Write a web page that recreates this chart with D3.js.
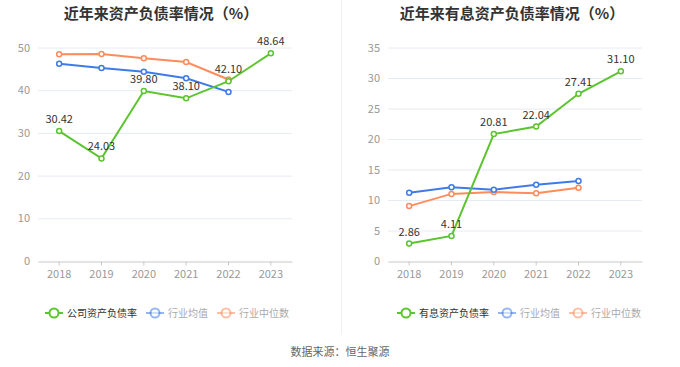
<!DOCTYPE html>
<html><head><meta charset="utf-8">
<script src="https://cdn.jsdelivr.net/npm/d3@7/dist/d3.min.js"></script>
<style>body{margin:0;background:#fff;}svg{display:block;font-family:"Noto Sans CJK SC","Noto Sans",sans-serif;}</style>
</head><body><svg id="c" width="680" height="367"></svg>
<script>
const years = ["2018","2019","2020","2021","2022","2023"];
const leftTitle = "近年来资产负债率情况（%）";
const rightTitle = "近年来有息资产负债率情况（%）";
const leftCompany = [30.42, 24.03, 39.80, 38.10, 42.10, 48.64];
const leftMean = [46.2, 45.2, 44.3, 42.8, 39.6];
const leftMedian = [48.4, 48.5, 47.5, 46.6, 42.5];
const rightCompany = [2.86, 4.11, 20.81, 22.04, 27.41, 31.10];
const rightMean = [11.2, 12.1, 11.7, 12.5, 13.1];
const rightMedian = [9.0, 11.0, 11.3, 11.1, 12.0];
const leftTicks = [0, 10, 20, 30, 40, 50];
const rightTicks = [0, 5, 10, 15, 20, 25, 30, 35];
const leftNames = ["公司资产负债率", "行业均值", "行业中位数"];
const rightNames = ["有息资产负债率", "行业均值", "行业中位数"];
const source = "数据来源：恒生聚源";

const colors = ["#5cc42f", "#3f7be8", "#ff8b5e"];
const svg = d3.select("#c");

// divider
svg.append("line").attr("x1", 341.5).attr("x2", 341.5).attr("y1", 0).attr("y2", 335)
  .attr("stroke", "#f0f0f0").attr("stroke-width", 1);

function panel(opt) {
  const g = svg.append("g");
  const x = d3.scaleBand().domain(years).range([opt.x0, opt.x1]);
  const y = d3.scaleLinear().domain([0, opt.max]).range([261, 47.5]);
  g.append("text").attr("x", opt.tx).attr("y", 19).attr("text-anchor", "middle")
    .attr("font-size", 15).attr("font-weight", "bold").attr("fill", "#333").text(opt.title);
  // grid
  g.selectAll(".grid").data(opt.ticks.slice(1)).join("line")
    .attr("x1", opt.x0).attr("x2", opt.x1).attr("y1", d => y(d) + 0.5).attr("y2", d => y(d) + 0.5)
    .attr("stroke", "#e6eaf3");
  // y labels
  g.selectAll(".yl").data(opt.ticks).join("text")
    .attr("x", opt.x0 - 8).attr("y", d => y(d) + 4).attr("text-anchor", "end")
    .attr("font-size", 11).attr("fill", "#999").text(d => d);
  // x axis
  const xa = g.append("g").attr("transform", `translate(0,${261.5})`)
    .call(d3.axisBottom(x).tickSize(4).tickSizeOuter(0));
  xa.select(".domain").attr("stroke", "#c8c8c8");
  xa.selectAll(".tick line").attr("stroke", "#c8c8c8");
  xa.selectAll(".tick text").attr("fill", "#999").attr("font-size", 11).attr("dy", "0.9em")
    .attr("font-family", "\"Noto Sans CJK SC\",sans-serif");
  const cx = (d, i) => x(years[i]) + x.bandwidth() / 2;
  const line = d3.line().x(cx).y(d => y(d));
  const series = [opt.median, opt.mean, opt.company];
  const sc = [colors[2], colors[1], colors[0]];
  series.forEach((s, k) => {
    g.append("path").datum(s).attr("d", line).attr("fill", "none")
      .attr("stroke", sc[k]).attr("stroke-width", 2);
    g.selectAll(null).data(s).join("circle").attr("cx", cx).attr("cy", d => y(d)).attr("r", 2.5)
      .attr("fill", "#fff").attr("stroke", sc[k]).attr("stroke-width", 1.5);
  });
  g.selectAll(".lab").data(opt.company).join("text")
    .attr("x", cx).attr("y", d => y(d) - 8).attr("text-anchor", "middle")
    .attr("font-size", 11).attr("fill", "#333")
    .text(d => d.toFixed(2));
  // legend
  let lx = opt.lx;
  const ly = 313;
  opt.names.forEach((n, i) => {
    const op = i === 0 ? 1 : 0.55;
    g.append("line").attr("x1", lx).attr("x2", lx + 18).attr("y1", ly).attr("y2", ly)
      .attr("stroke", colors[i]).attr("stroke-width", 2).attr("opacity", op);
    g.append("circle").attr("cx", lx + 9).attr("cy", ly).attr("r", 4.5)
      .attr("fill", "#fff").attr("stroke", colors[i]).attr("stroke-width", 2).attr("opacity", op);
    const t = g.append("text").attr("x", lx + 22).attr("y", ly + 4).attr("font-size", 10)
      .attr("fill", i === 0 ? "#333" : "#aaa").text(n);
    lx += 22 + t.node().getComputedTextLength() + 9;
  });
}

panel({x0: 38, x1: 292, max: 50, ticks: leftTicks, title: leftTitle, tx: 161,
  company: leftCompany, mean: leftMean, median: leftMedian, names: leftNames, lx: 45});
panel({x0: 388, x1: 642, max: 35, ticks: rightTicks, title: rightTitle, tx: 512,
  company: rightCompany, mean: rightMean, median: rightMedian, names: rightNames, lx: 397});

svg.append("text").attr("x", 340).attr("y", 356).attr("text-anchor", "middle")
  .attr("font-size", 11).attr("fill", "#666").text(source);
</script></body></html>
